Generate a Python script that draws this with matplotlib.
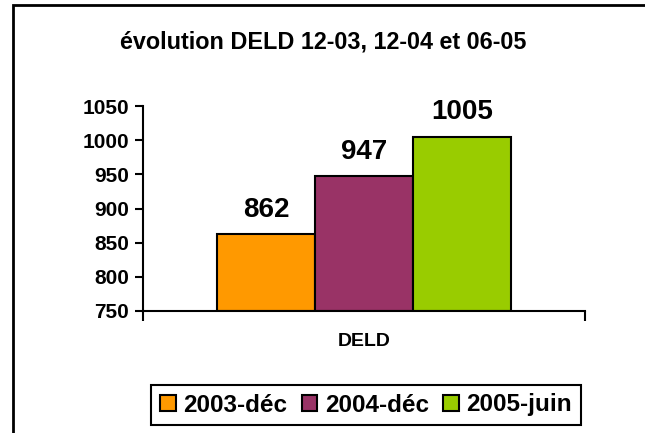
import matplotlib.pyplot as plt
import matplotlib.patches as mpatches

plt.rcParams['font.family'] = ['Liberation Sans', 'DejaVu Sans']
plt.rcParams['font.weight'] = 'bold'

series = ["2003-déc", "2004-déc", "2005-juin"]
values = [862, 947, 1005]
colors = ["#FF9900", "#993366", "#99CC00"]
category = "DELD"
yticks = [750, 800, 850, 900, 950, 1000, 1050]

fig = plt.figure(figsize=(6.45, 4.33), dpi=100)
ax = fig.add_axes([143/645, 1 - 311/433, 442/645, 205/433])

w = 98 / 442
for i, (name, v, c) in enumerate(zip(series, values, colors)):
    x = 0.5 + (i - 1) * w
    ax.bar(x, v - 750, bottom=750, width=w, color=c, edgecolor="black",
           linewidth=1.5, label=name)
    ax.text(x, v + 17, str(v), ha="center", va="bottom", fontsize=20,
            fontweight="bold")

ax.set_xlim(0, 1)
ax.set_ylim(750, 1050)
ax.set_yticks(yticks)
ax.set_yticklabels([str(t) for t in yticks], fontsize=15, fontweight="bold")
ax.set_xticks([0, 1])
ax.set_xticklabels(["", ""])
ax.tick_params(axis="y", direction="out", length=6, width=1.5, pad=4)
ax.tick_params(axis="x", direction="out", length=7, width=1.5)
for s in ["top", "right"]:
    ax.spines[s].set_visible(False)
for s in ["left", "bottom"]:
    ax.spines[s].set_linewidth(1.5)

fig.text(364/645, 1 - 342/433, category, ha="center", va="center",
         fontsize=14, fontweight="bold")
fig.text(323/645, 1 - 48/433, "évolution DELD 12-03, 12-04 et 06-05",
         ha="center", va="baseline", fontsize=16.8, fontweight="bold")

leg = fig.legend(loc="center", bbox_to_anchor=(366/645, 1 - 405/433), ncol=3,
                 prop={"size": 17.5, "weight": "bold"}, fancybox=False,
                 edgecolor="black", framealpha=1, handlelength=0.65,
                 handleheight=0.65, handletextpad=0.3, columnspacing=0.6,
                 borderpad=0.35, borderaxespad=0)
leg.get_frame().set_linewidth(1.5)

frame = mpatches.Rectangle((13/645, -0.1), 1.0, 1.1 - 5/433,
                           transform=fig.transFigure, fill=False,
                           edgecolor="black", linewidth=2)
fig.patches.append(frame)

fig.savefig("out.png", dpi=100)
